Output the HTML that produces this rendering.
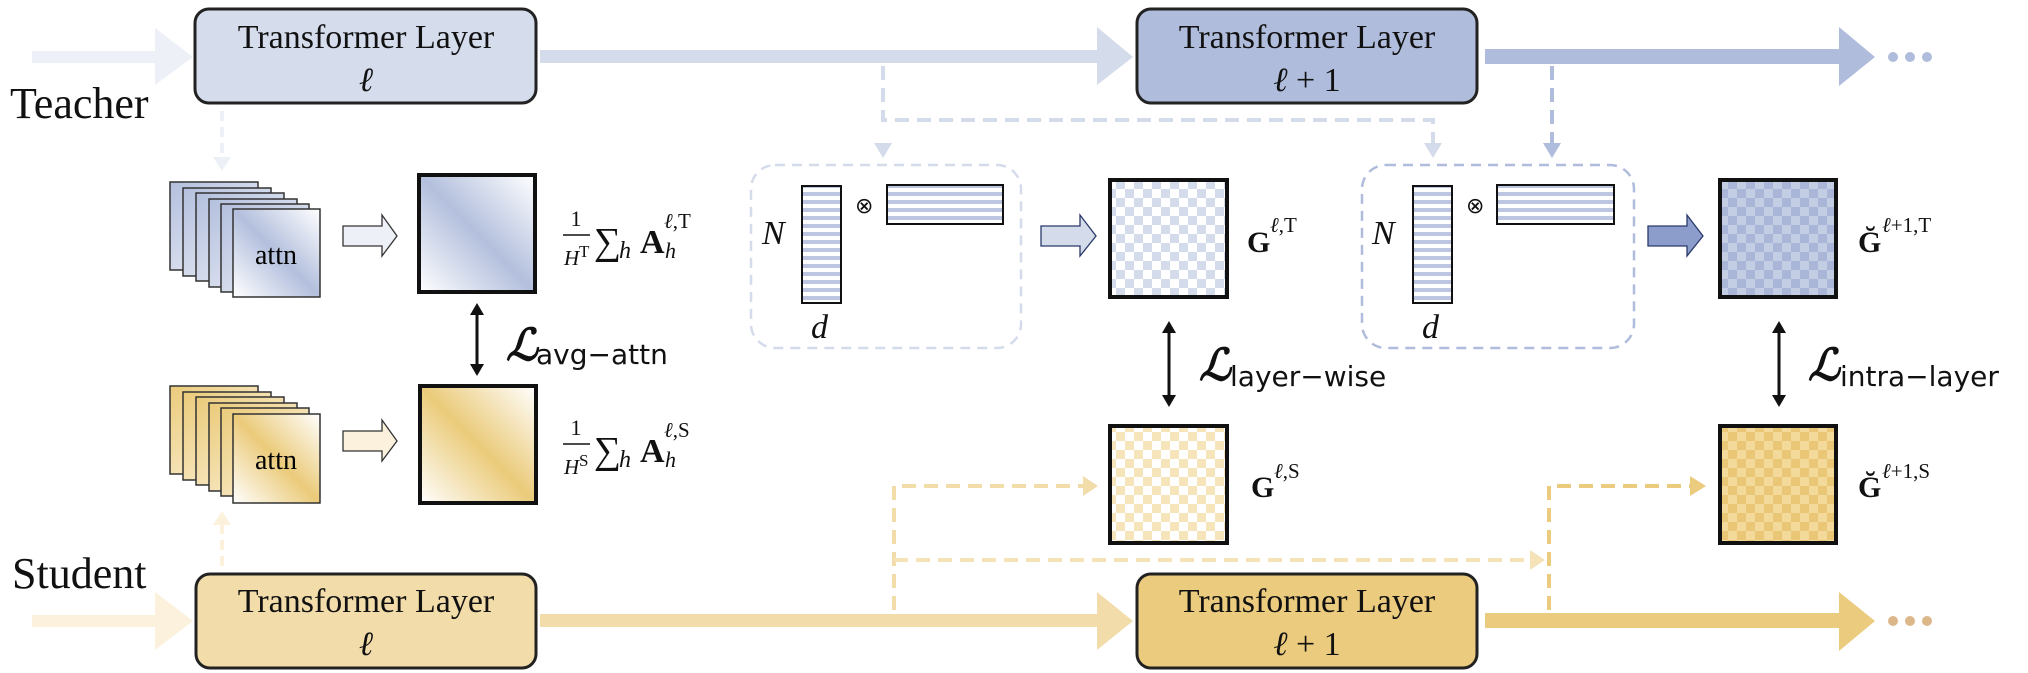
<!DOCTYPE html>
<html><head><meta charset="utf-8"><style>
html,body{margin:0;padding:0;background:#fff;}
svg{display:block;}
.ser{font-family:"Liberation Serif",serif;}
.sans{font-family:"DejaVu Sans","Liberation Sans",sans-serif;}
</style></head><body>
<svg width="2028" height="673" viewBox="0 0 2028 673" xmlns="http://www.w3.org/2000/svg">
<defs>
<pattern id="chkT" width="18" height="18" patternUnits="userSpaceOnUse"><rect width="18" height="18" fill="#fff"/><rect width="9" height="9" fill="#d4dbea"/><rect x="9" y="9" width="9" height="9" fill="#d4dbea"/></pattern>
<pattern id="chkT2" width="18" height="18" patternUnits="userSpaceOnUse"><rect width="18" height="18" fill="#c3cde4"/><rect width="9" height="9" fill="#a9b6d8"/><rect x="9" y="9" width="9" height="9" fill="#a9b6d8"/></pattern>
<pattern id="chkS" width="18" height="18" patternUnits="userSpaceOnUse"><rect width="18" height="18" fill="#fff"/><rect width="9" height="9" fill="#f6e4bb"/><rect x="9" y="9" width="9" height="9" fill="#f6e4bb"/></pattern>
<pattern id="chkS2" width="18" height="18" patternUnits="userSpaceOnUse"><rect width="18" height="18" fill="#f3d99a"/><rect width="9" height="9" fill="#eac777"/><rect x="9" y="9" width="9" height="9" fill="#eac777"/></pattern>
<pattern id="strH" width="10" height="8" patternUnits="userSpaceOnUse"><rect width="10" height="8" fill="#fff"/><rect width="10" height="4" fill="#bcc6e0"/></pattern>
<linearGradient id="gT" x1="0" y1="1" x2="1" y2="0"><stop offset="0" stop-color="#fff"/><stop offset="0.5" stop-color="#b3bfdd"/><stop offset="1" stop-color="#fff"/></linearGradient>
<linearGradient id="gS" x1="0" y1="1" x2="1" y2="0"><stop offset="0" stop-color="#fff"/><stop offset="0.5" stop-color="#ebcb7a"/><stop offset="1" stop-color="#fff"/></linearGradient>
<linearGradient id="gTc" x1="0" y1="0" x2="1" y2="1"><stop offset="0" stop-color="#b3bfdd"/><stop offset="1" stop-color="#f2f4fa"/></linearGradient>
<linearGradient id="gSc" x1="0" y1="0" x2="1" y2="1"><stop offset="0" stop-color="#ebcb7a"/><stop offset="1" stop-color="#fdf6e6"/></linearGradient>
</defs>

<!-- teacher flow arrows -->
<rect x="32" y="51" width="130" height="12" fill="#eef0f7"/>
<polygon points="155,28 193,57 155,85" fill="#eef0f7"/>
<rect x="540" y="50" width="560" height="13" fill="#d4dbea"/>
<polygon points="1097,27 1133,57 1097,85" fill="#d4dbea"/>
<rect x="1485" y="49" width="360" height="15" fill="#b0bcdc"/>
<polygon points="1839,27 1875,57 1839,86" fill="#b0bcdc"/>
<g fill="#b0bcdc"><circle cx="1893" cy="57" r="5"/><circle cx="1910" cy="57" r="5"/><circle cx="1927" cy="57" r="5"/></g>

<!-- student flow arrows -->
<rect x="32" y="615" width="130" height="12" fill="#fbf1dd"/>
<polygon points="155,592 193,621 155,650" fill="#fbf1dd"/>
<rect x="540" y="614" width="560" height="13" fill="#f2ddaa"/>
<polygon points="1097,592 1133,621 1097,650" fill="#f2ddaa"/>
<rect x="1485" y="613" width="360" height="15" fill="#ebcb7d"/>
<polygon points="1839,592 1875,621 1839,651" fill="#ebcb7d"/>
<g fill="#dcb78a"><circle cx="1893" cy="621" r="5"/><circle cx="1910" cy="621" r="5"/><circle cx="1927" cy="621" r="5"/></g>

<!-- boxes -->
<rect x="195" y="9" width="341" height="94" rx="14" fill="#d5dcec" stroke="#222" stroke-width="3"/>
<rect x="1137" y="9" width="340" height="94" rx="14" fill="#b0bcdc" stroke="#222" stroke-width="3"/>
<rect x="196" y="574" width="340" height="94" rx="14" fill="#f2ddaa" stroke="#222" stroke-width="3"/>
<rect x="1137" y="574" width="340" height="94" rx="14" fill="#ebcb7d" stroke="#222" stroke-width="3"/>
<g class="ser" font-size="34" text-anchor="middle" fill="#111">
<text x="366" y="48">Transformer Layer</text><text x="366" y="91" font-style="italic">ℓ</text>
<text x="1307" y="48">Transformer Layer</text><text x="1307" y="91"><tspan font-style="italic">ℓ</tspan> + 1</text>
<text x="366" y="612">Transformer Layer</text><text x="366" y="655" font-style="italic">ℓ</text>
<text x="1307" y="612">Transformer Layer</text><text x="1307" y="655"><tspan font-style="italic">ℓ</tspan> + 1</text>
</g>
<text class="ser" x="10" y="118" font-size="44" fill="#111">Teacher</text>
<text class="ser" x="12" y="588" font-size="44" fill="#111">Student</text>

<!-- dashed short arrows -->
<line x1="222" y1="111" x2="222" y2="160" stroke="#eef0f7" stroke-width="4" stroke-dasharray="10,6"/>
<polygon points="213,157 231,157 222,171" fill="#eef0f7"/>
<line x1="222" y1="566" x2="222" y2="522" stroke="#fbf1dd" stroke-width="4" stroke-dasharray="10,6"/>
<polygon points="213,525 231,525 222,511" fill="#fbf1dd"/>

<!-- attn stacks -->
<g stroke="#333" stroke-width="1.5">
<rect x="170" y="182" width="88" height="88" fill="url(#gTc)"/>
<rect x="183" y="188" width="88" height="88" fill="url(#gTc)"/>
<rect x="196" y="193" width="88" height="88" fill="url(#gTc)"/>
<rect x="209" y="199" width="88" height="88" fill="url(#gTc)"/>
<rect x="221" y="204" width="88" height="88" fill="url(#gTc)"/>
<rect x="233" y="209" width="87" height="88" fill="url(#gT)"/>
<rect x="170" y="386" width="88" height="88" fill="url(#gSc)"/>
<rect x="183" y="392" width="88" height="88" fill="url(#gSc)"/>
<rect x="196" y="397" width="88" height="88" fill="url(#gSc)"/>
<rect x="209" y="403" width="88" height="88" fill="url(#gSc)"/>
<rect x="221" y="408" width="88" height="88" fill="url(#gSc)"/>
<rect x="233" y="414" width="87" height="89" fill="url(#gS)"/>
</g>
<text class="ser" x="276" y="264" font-size="28" text-anchor="middle">attn</text>
<text class="ser" x="276" y="469" font-size="28" text-anchor="middle">attn</text>

<!-- hollow arrows -->
<polygon points="343,226 382,226 382,215 397,236 382,256 382,246 343,246" fill="#eef0f7" stroke="#333" stroke-width="1.3"/>
<polygon points="343,431 382,431 382,420 397,441 382,461 382,451 343,451" fill="#fbf1dd" stroke="#333" stroke-width="1.3"/>
<polygon points="1041,226 1080,226 1080,215 1096,236 1080,256 1080,246 1041,246" fill="#d4dbea" stroke="#2a3a6a" stroke-width="1.3"/>
<polygon points="1648,226 1687,226 1687,215 1703,236 1687,256 1687,246 1648,246" fill="#8c9ccb" stroke="#2a3a6a" stroke-width="1.3"/>

<!-- avg attn matrices -->
<rect x="419" y="175" width="116" height="117" fill="url(#gT)" stroke="#111" stroke-width="4"/>
<rect x="420" y="386" width="116" height="117" fill="url(#gS)" stroke="#111" stroke-width="4"/>

<!-- formulas -->
<g class="ser" fill="#111">
<text x="576" y="226" font-size="22" text-anchor="middle">1</text>
<line x1="563" y1="235" x2="590" y2="235" stroke="#111" stroke-width="1.5"/>
<text x="564" y="265" font-size="21" font-style="italic">H</text><text x="579" y="257" font-size="17">T</text>
<text x="594" y="254" font-size="38">∑</text><text x="619" y="258" font-size="24" font-style="italic">h</text>
<text x="640" y="253" font-size="34" font-weight="bold">A</text>
<text x="664" y="228" font-size="21"><tspan font-style="italic">ℓ</tspan>,T</text>
<text x="665" y="258" font-size="22" font-style="italic">h</text>

<text x="576" y="435" font-size="22" text-anchor="middle">1</text>
<line x1="563" y1="444" x2="590" y2="444" stroke="#111" stroke-width="1.5"/>
<text x="564" y="474" font-size="21" font-style="italic">H</text><text x="579" y="466" font-size="17">S</text>
<text x="594" y="463" font-size="38">∑</text><text x="619" y="467" font-size="24" font-style="italic">h</text>
<text x="640" y="462" font-size="34" font-weight="bold">A</text>
<text x="664" y="437" font-size="21"><tspan font-style="italic">ℓ</tspan>,S</text>
<text x="665" y="467" font-size="22" font-style="italic">h</text>
</g>

<!-- double arrows -->
<g stroke="#111" stroke-width="3">
<line x1="477" y1="312" x2="477" y2="367"/>
<line x1="1169" y1="330" x2="1169" y2="398"/>
<line x1="1779" y1="330" x2="1779" y2="398"/>
</g>
<g fill="#111">
<polygon points="470,315 477,303 484,315"/><polygon points="470,364 477,376 484,364"/>
<polygon points="1162,333 1169,321 1176,333"/><polygon points="1162,395 1169,407 1176,395"/>
<polygon points="1772,333 1779,321 1786,333"/><polygon points="1772,395 1779,407 1786,395"/>
</g>
<g class="ser" fill="#111">
<text x="506" y="360" font-size="44" font-style="italic" font-weight="bold">ℒ</text>
<text x="536" y="364" font-size="28" class="sans">avg−attn</text>
<text x="1199" y="380" font-size="44" font-style="italic" font-weight="bold">ℒ</text>
<text x="1230" y="386" font-size="28" class="sans">layer−wise</text>
<text x="1808" y="380" font-size="44" font-style="italic" font-weight="bold">ℒ</text>
<text x="1840" y="386" font-size="28" class="sans">intra−layer</text>
</g>

<!-- teacher dashed connectors -->
<g fill="none" stroke-dasharray="14,8" stroke-width="4">
<polyline points="883,66 883,120 1433,120 1433,145" stroke="#d4dbea"/>
<line x1="1552" y1="66" x2="1552" y2="145" stroke="#b0bcdc"/>
</g>
<polygon points="874,143 892,143 883,158" fill="#d4dbea"/>
<polygon points="1424,143 1442,143 1433,158" fill="#d4dbea"/>
<polygon points="1543,143 1561,143 1552,158" fill="#b0bcdc"/>

<!-- dashed boxes -->
<rect x="751" y="165" width="270" height="183" rx="24" fill="none" stroke="#d4dbea" stroke-width="2.5" stroke-dasharray="10,7"/>
<rect x="1362" y="165" width="272" height="183" rx="24" fill="none" stroke="#b0bcdc" stroke-width="2.5" stroke-dasharray="10,7"/>
<rect x="802" y="186" width="39" height="117" fill="url(#strH)" stroke="#111" stroke-width="2"/>
<rect x="887" y="185" width="116" height="39" fill="url(#strH)" stroke="#111" stroke-width="2"/>
<rect x="1413" y="186" width="39" height="117" fill="url(#strH)" stroke="#111" stroke-width="2"/>
<rect x="1497" y="185" width="117" height="39" fill="url(#strH)" stroke="#111" stroke-width="2"/>
<g class="ser" fill="#111" font-style="italic">
<text x="762" y="244" font-size="34">N</text><text x="811" y="338" font-size="34">d</text>
<text x="1372" y="244" font-size="34">N</text><text x="1422" y="338" font-size="34">d</text>
</g>
<g class="sans" font-size="22" fill="#111"><text x="855" y="213">⊗</text><text x="1466" y="213">⊗</text></g>

<!-- G matrices -->
<rect x="1110" y="180" width="117" height="117" fill="url(#chkT)" stroke="#111" stroke-width="4"/>
<rect x="1720" y="180" width="116" height="117" fill="url(#chkT2)" stroke="#111" stroke-width="4"/>
<rect x="1110" y="426" width="117" height="117" fill="url(#chkS)" stroke="#111" stroke-width="4"/>
<rect x="1720" y="426" width="116" height="117" fill="url(#chkS2)" stroke="#111" stroke-width="4"/>
<g class="ser" fill="#111">
<text x="1247" y="252" font-size="30" font-weight="bold">G</text><text x="1270" y="232" font-size="21"><tspan font-style="italic">ℓ</tspan>,T</text>
<text x="1251" y="497" font-size="30" font-weight="bold">G</text><text x="1274" y="478" font-size="21"><tspan font-style="italic">ℓ</tspan>,S</text>
<text x="1858" y="252" font-size="30" font-weight="bold">Ğ</text><text x="1882" y="232" font-size="21"><tspan font-style="italic">ℓ</tspan>+1,T</text>
<text x="1858" y="497" font-size="30" font-weight="bold">Ğ</text><text x="1882" y="478" font-size="21"><tspan font-style="italic">ℓ</tspan>+1,S</text>
</g>

<!-- student dashed connectors -->
<g fill="none" stroke-dasharray="14,8" stroke-width="4">
<polyline points="894,610 894,486 1085,486" stroke="#f2ddaa"/>
<line x1="894" y1="560" x2="1533" y2="560" stroke="#f5e2b8"/>
<polyline points="1549,610 1549,486 1692,486" stroke="#ebcb7d"/>
</g>
<polygon points="1083,476 1098,486 1083,496" fill="#f2ddaa"/>
<polygon points="1530,550 1545,560 1530,570" fill="#f5e2b8"/>
<polygon points="1690,476 1706,486 1690,496" fill="#ebcb7d"/>
</svg>
</body></html>
